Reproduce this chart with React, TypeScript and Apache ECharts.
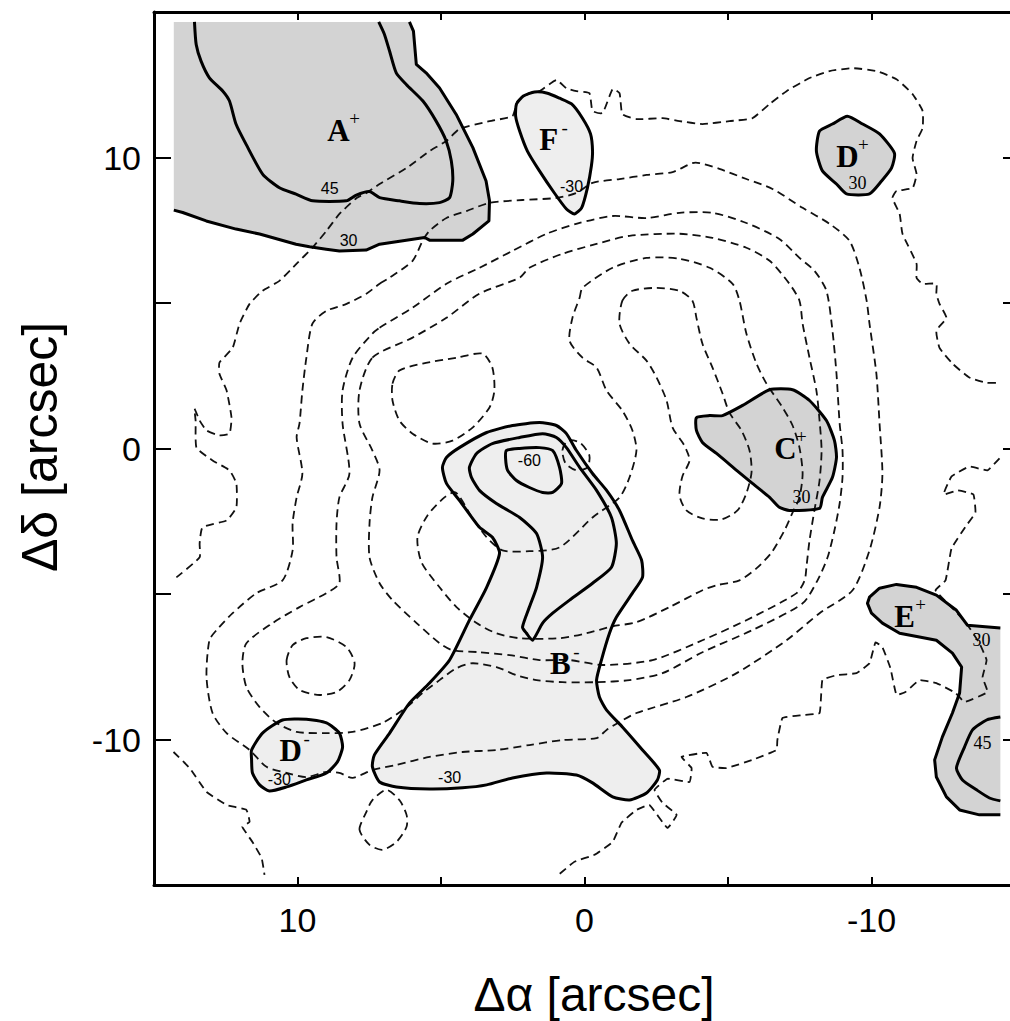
import React, { useEffect, useRef } from 'react';
import * as echarts from 'echarts';

type Pt = [number, number];

const FONT_SANS = '"Liberation Sans", Arial, Helvetica, sans-serif';
const FONT_SERIF = '"Liberation Serif", "Times New Roman", serif';

// ---- axis ticks ----
const AXIS_MIN = -15;
const AXIS_MAX = 15;
const TICK_STEP = 5;
const TICK_LABELS = [10, 0, -10];

// ---- filled (solid) contours, arcsec ----
const A_PLUS_30: Pt[] = [[6.10,14.66],[5.96,14.34],[5.86,13.2],[5.52,12.91],[5.05,12.39],[4.47,11.48],[3.89,10.34],[3.43,9.19],[3.31,8.51],[3.33,7.82],[3.89,7.37],[4.24,7.16],[5.40,7.16],[5.57,7.25],[6.21,7.16],[7.14,7.02],[7.61,6.82],[8.54,6.79],[9.0,6.85],[9.58,6.93],[10.05,7.02],[11.32,7.37],[12.14,7.54],[13.18,7.82],[14.0,8.11],[14.31,8.19]];
const A_PLUS_CORNER: Pt[] = [[14.31,14.66]];
const A_PLUS_45: Pt[] = [[13.59,14.66],[13.53,13.88],[13.36,13.31],[13.07,12.74],[12.60,12.28],[12.37,11.94],[12.14,11.14],[11.79,10.45],[11.21,9.42],[10.63,8.96],[10.05,8.74],[9.47,8.51],[8.30,8.51],[7.95,8.71],[7.49,8.83],[7.14,8.62],[6.45,8.51],[5.75,8.42],[5.05,8.45],[4.70,8.62],[4.59,9.19],[4.64,9.88],[4.82,10.57],[5.17,11.25],[5.63,11.94],[6.21,12.51],[6.56,12.91],[6.79,13.65],[6.97,14.23],[7.17,14.66]];
const F_MINUS_30: Pt[] = [[2.37,11.84],[2.13,12.11],[1.74,12.25],[1.29,12.21],[0.87,12.04],[0.45,11.84],[0.07,11.35],[-0.21,10.81],[-0.28,10.22],[-0.24,9.71],[-0.10,8.95],[0.10,8.27],[0.35,8.06],[0.63,8.23],[1.05,8.78],[1.57,9.54],[1.99,10.22],[2.26,10.91],[2.40,11.42]];
const D_PLUS_30: Pt[] = [[-8.08,10.22],[-8.19,10.91],[-8.64,11.15],[-9.16,11.42],[-9.69,11.15],[-10.28,10.81],[-10.80,10.15],[-10.70,9.64],[-10.35,9.19],[-9.93,8.75],[-9.13,8.75],[-8.78,9.09],[-8.29,9.54]];
const C_PLUS_30: Pt[] = [[-3.90,1.06],[-4.36,1.13],[-4.81,1.13],[-5.51,1.48],[-6.45,2.02],[-7.25,2.02],[-7.84,1.65],[-8.43,0.96],[-8.71,0.27],[-8.78,-0.31],[-8.64,-0.99],[-8.29,-1.68],[-8.19,-2.06],[-7.14,-2.13],[-6.79,-2.02],[-6.45,-1.68],[-5.85,-1.20],[-5.30,-0.75],[-4.60,-0.17],[-4.11,0.21],[-3.90,0.62]];
const D_MINUS_30: Pt[] = [[11.60,-10.36],[11.22,-9.78],[10.52,-9.33],[9.69,-9.30],[8.99,-9.43],[8.54,-9.78],[8.43,-10.26],[8.61,-10.77],[8.99,-11.15],[9.69,-11.39],[10.38,-11.63],[10.98,-11.77],[11.32,-11.56],[11.57,-11.15],[11.60,-10.70]];
const B_MINUS_30: Pt[] = [[4.95,-0.65],[4.81,-0.31],[4.36,0.03],[3.41,0.55],[2.51,0.79],[1.57,0.89],[0.98,0.79],[0.63,0.51],[0.28,-0.07],[-0.28,-0.86],[-0.77,-1.44],[-1.22,-2.13],[-1.67,-3.16],[-1.99,-3.84],[-2.02,-4.43],[-1.67,-4.97],[-1.11,-5.80],[-0.87,-6.35],[-0.59,-7.27],[-0.42,-7.96],[-0.52,-8.54],[-0.77,-8.99],[-1.32,-9.57],[-2.02,-10.36],[-2.61,-11.05],[-2.54,-11.39],[-2.16,-11.84],[-1.57,-12.08],[-0.98,-11.97],[-0.28,-11.49],[0.28,-11.22],[1.32,-11.15],[2.51,-11.32],[3.41,-11.56],[4.25,-11.66],[5.40,-11.70],[6.55,-11.63],[7.14,-11.46],[7.39,-10.94],[7.32,-10.53],[6.79,-9.78],[6.10,-8.75],[5.40,-8.06],[4.70,-7.27],[4.01,-5.90],[3.41,-4.77],[2.96,-3.60],[3.21,-3.05],[3.66,-2.71],[4.36,-1.78],[4.81,-1.20]];
const B_MINUS_45: Pt[] = [[4.01,-0.65],[3.76,-0.17],[3.21,0.17],[2.26,0.38],[1.46,0.51],[0.98,0.38],[0.63,0.03],[0.17,-0.65],[-0.42,-1.44],[-0.94,-2.37],[-1.11,-3.26],[-0.94,-4.08],[-0.28,-4.63],[0.52,-5.21],[1.11,-5.66],[1.46,-6.00],[1.81,-6.59],[2.02,-6.35],[2.16,-6.14],[1.92,-5.45],[1.67,-4.77],[1.46,-3.74],[1.67,-2.92],[2.26,-2.37],[3.07,-1.89],[3.66,-1.44],[3.94,-0.99]];
const B_MINUS_60: Pt[] = [[2.72,-0.07],[2.26,0.00],[1.57,0.03],[1.11,-0.07],[0.87,-0.65],[0.80,-1.20],[1.11,-1.51],[1.46,-1.51],[1.92,-1.34],[2.37,-1.10],[2.68,-0.75],[2.75,-0.34]];
const E_PLUS_30: Pt[] = [[-14.49,-12.59],[-13.76,-12.59],[-13.07,-12.42],[-12.61,-11.97],[-12.26,-11.29],[-12.20,-10.70],[-12.47,-9.91],[-12.82,-9.09],[-13.07,-8.40],[-13.14,-7.51],[-12.82,-7.03],[-12.26,-6.59],[-11.67,-6.48],[-10.98,-6.35],[-10.38,-6.00],[-10.00,-5.66],[-9.86,-5.32],[-9.93,-5.11],[-10.28,-4.80],[-10.87,-4.67],[-11.57,-4.77],[-12.26,-5.04],[-12.96,-5.56],[-13.34,-6.07],[-14.49,-6.17]];
const E_PLUS_45: Pt[] = [[-14.49,-9.23],[-14.01,-9.33],[-13.52,-9.67],[-13.24,-10.26],[-12.96,-10.98],[-13.17,-11.39],[-13.66,-11.73],[-14.11,-12.01],[-14.49,-12.11]];

// ---- dashed contours, arcsec ----
const DASH_OUTER_N: Pt[] = [[14.22,-4.43],[13.41,-3.74],[13.41,-3.26],[13.31,-2.71],[12.47,-2.47],[12.13,-2.02],[12.13,-1.20],[12.37,-0.75],[12.96,-0.41],[13.52,0.03],[13.55,0.96],[13.59,1.37],[13.41,0.96],[13.17,0.62],[12.72,0.45],[12.37,0.51],[12.30,1.06],[12.47,1.99],[12.72,2.57],[12.72,2.95],[12.26,3.46],[12.02,4.29],[11.67,4.97],[11.22,5.42],[10.63,5.76],[10.03,6.35],[9.48,6.90],[8.99,7.48],[8.54,8.06],[7.94,8.61],[7.60,8.78],[7.14,9.09],[6.20,9.64],[5.40,10.22],[4.81,10.57],[4.36,10.98],[3.31,11.25],[2.51,11.42],[2.33,11.94],[1.92,12.21],[1.57,12.28],[0.98,12.66],[0.63,12.38],[0.28,12.28],[-0.17,12.21],[-0.28,11.60],[-0.63,11.53],[-0.98,12.35],[-1.22,12.21],[-1.32,11.49],[-1.81,11.32],[-2.72,11.35],[-3.31,11.25],[-4.11,11.15],[-5.05,11.25],[-5.85,11.35],[-6.45,11.84],[-7.04,12.28],[-7.84,12.73],[-8.54,12.97],[-9.34,13.07],[-10.17,12.97],[-10.87,12.69],[-11.43,12.18],[-11.78,11.60],[-11.78,11.01],[-11.57,10.57],[-11.43,9.98],[-11.57,9.43],[-11.43,8.95],[-10.87,8.85],[-10.73,8.61],[-10.98,8.06],[-11.08,7.38],[-11.57,6.35],[-11.57,5.87],[-11.78,5.66],[-12.26,5.66],[-12.26,5.32],[-12.37,4.97],[-12.61,4.49],[-12.26,4.05],[-12.37,3.46],[-12.82,2.92],[-13.41,2.44],[-14.01,2.26],[-14.46,2.26]];
const DASH_2: Pt[] = [[7.14,5.66],[6.79,5.87],[5.99,6.45],[5.64,7.14],[5.40,7.48],[4.81,7.92],[4.11,8.16],[3.31,8.44],[2.16,8.54],[0.98,8.61],[0.28,8.78],[-0.28,9.13],[-1.22,9.26],[-2.16,9.40],[-3.07,9.50],[-3.76,9.81],[-4.01,9.81],[-4.70,9.61],[-5.64,9.26],[-6.55,8.92],[-7.60,8.27],[-8.54,7.72],[-9.23,7.14],[-9.58,6.21],[-9.83,5.08],[-9.93,4.29],[-10.17,2.57],[-10.28,0.86],[-10.38,-0.86],[-10.28,-2.02],[-9.93,-3.50],[-9.34,-4.87],[-8.19,-5.66],[-7.04,-6.59],[-5.30,-7.72],[-3.55,-8.54],[-1.81,-9.09],[-1.22,-9.40],[-0.77,-9.67],[-0.42,-9.95],[0.77,-10.02],[1.92,-10.19],[3.07,-10.36],[4.25,-10.43],[5.40,-10.60],[6.55,-10.87],[7.39,-11.05],[8.08,-11.32],[8.54,-11.15],[8.99,-11.11],[9.69,-11.29],[10.38,-11.15],[11.08,-10.94],[11.67,-10.36],[12.47,-9.78],[12.96,-9.09],[13.17,-7.86],[13.07,-6.59],[12.82,-6.24],[12.26,-5.66],[11.43,-4.97],[10.52,-4.53],[10.17,-3.50],[10.17,-2.57],[10.03,-1.68],[9.83,-0.86],[10.03,0.38],[9.93,0.86],[9.83,1.99],[9.69,3.12],[9.48,4.29],[8.99,4.73],[8.29,4.97],[7.60,5.32]];
const DASH_3: Pt[] = [[7.14,4.15],[5.99,4.84],[4.81,5.66],[3.66,6.21],[2.51,6.79],[1.32,7.38],[0.17,7.75],[-0.98,7.99],[-2.16,7.92],[-3.31,8.10],[-4.46,8.10],[-5.64,7.75],[-6.79,7.20],[-7.49,6.55],[-8.01,6.11],[-8.43,5.42],[-8.64,4.05],[-8.78,2.57],[-8.89,0.86],[-8.99,-0.07],[-8.99,-0.99],[-8.89,-1.89],[-8.71,-2.81],[-8.47,-3.74],[-8.12,-4.53],[-7.60,-5.32],[-5.85,-6.24],[-4.11,-7.00],[-2.72,-7.72],[-1.57,-7.96],[-0.42,-8.03],[0.77,-8.03],[1.67,-7.96],[2.37,-7.79],[3.07,-7.51],[3.90,-7.38],[4.46,-7.55],[5.05,-7.96],[5.64,-8.40],[6.20,-8.89],[7.04,-9.43],[8.08,-9.74],[8.99,-9.78],[10.03,-9.74],[10.73,-9.43],[11.32,-8.89],[11.78,-8.20],[11.92,-7.38],[11.78,-6.69],[10.87,-6.00],[9.93,-5.45],[8.99,-4.97],[8.54,-4.63],[8.64,-3.74],[8.64,-2.57],[8.54,-1.68],[8.19,-0.86],[8.43,0.86],[8.43,1.99],[8.08,3.12],[7.39,3.95]];
const DASH_4: Pt[] = [[7.39,3.12],[5.99,3.81],[4.81,4.49],[3.66,5.32],[2.26,5.87],[1.92,6.21],[0.77,6.69],[-0.42,7.03],[-1.57,7.31],[-3.31,7.38],[-4.46,7.24],[-5.64,6.90],[-6.45,6.45],[-7.14,5.66],[-7.49,5.08],[-7.60,4.29],[-7.84,3.12],[-8.08,1.99],[-8.19,0.96],[-8.26,-0.07],[-8.19,-1.10],[-8.01,-2.13],[-7.84,-3.16],[-7.74,-4.01],[-7.67,-4.53],[-7.39,-4.97],[-5.64,-5.90],[-4.11,-6.59],[-2.37,-7.27],[-0.63,-7.44],[0.52,-7.27],[1.57,-7.27],[2.61,-7.10],[3.66,-7.00],[4.60,-6.93],[5.05,-6.69],[5.85,-6.00],[6.69,-5.21],[7.14,-4.63],[7.49,-3.74],[7.49,-2.57],[7.39,-1.68],[7.14,-0.75],[7.39,-0.07],[7.84,0.86],[7.84,1.99]];
const DASH_5: Pt[] = [[0.17,5.18],[0.07,5.52],[-0.98,6.21],[-2.16,6.55],[-3.31,6.52],[-4.36,6.21],[-5.16,5.66],[-5.40,5.08],[-5.64,3.95],[-5.99,2.92],[-6.34,2.23],[-6.90,1.41],[-7.25,0.79],[-7.49,0.03],[-7.60,-0.86],[-7.49,-1.68],[-7.25,-2.20],[-6.97,-2.81],[-6.52,-3.57],[-5.99,-4.12],[-5.40,-4.53],[-4.60,-4.70],[-4.11,-4.87],[-2.96,-5.45],[-1.81,-5.97],[-0.98,-6.11],[-0.07,-6.35],[0.87,-6.52],[2.26,-6.52],[3.07,-6.35],[3.76,-6.00],[4.46,-5.45],[5.05,-4.77],[5.68,-3.91],[5.82,-3.05],[5.47,-2.30],[4.88,-1.68],[4.49,-1.51],[3.94,-2.33],[3.41,-3.05],[2.86,-3.50],[1.92,-3.53],[0.87,-3.40],[-0.28,-2.37],[-1.22,-1.68],[-1.57,-0.99],[-1.81,-0.07],[-1.67,0.62],[-1.32,1.30],[-0.77,1.99],[-0.42,2.78],[0.07,3.12],[0.52,3.70],[0.42,4.49]];
const DASH_6: Pt[] = [[-1.32,5.08],[-1.67,5.42],[-2.51,5.52],[-3.31,5.42],[-3.76,5.08],[-3.90,4.49],[-4.11,3.60],[-4.46,2.78],[-4.81,1.89],[-5.05,1.23],[-5.47,0.62],[-5.75,-0.07],[-5.82,-0.82],[-5.64,-1.54],[-5.33,-2.13],[-4.77,-2.44],[-4.11,-2.40],[-3.55,-2.13],[-3.31,-1.61],[-3.41,-0.96],[-3.66,-0.41],[-3.48,0.10],[-3.07,0.72],[-2.86,1.65],[-2.51,2.44],[-2.16,3.02],[-1.57,3.60],[-1.22,4.29]];
const DASH_LOOP_W: Pt[] = [[6.69,2.23],[6.45,2.68],[5.64,2.92],[4.46,3.12],[3.55,3.26],[3.21,2.78],[3.14,1.99],[3.31,1.41],[3.90,0.72],[4.60,0.27],[5.30,0.17],[5.99,0.51],[6.45,0.96],[6.69,1.65]];
const DASH_LOOP_SW: Pt[] = [[10.38,-7.27],[10.17,-6.76],[9.69,-6.52],[8.99,-6.48],[8.29,-6.83],[8.01,-7.38],[8.19,-7.96],[8.64,-8.37],[9.23,-8.47],[9.93,-8.30],[10.28,-7.86]];
const DASH_LOOP_B: Pt[] = [[0.77,-0.07],[0.59,0.27],[0.17,0.21],[-0.17,-0.24],[-0.10,-0.65],[0.28,-0.75],[0.66,-0.51]];
const DASH_DROP: Pt[] = [[7.84,-13.10],[7.60,-12.49],[7.39,-12.08],[6.90,-11.73],[6.45,-12.08],[6.20,-12.59],[6.20,-13.00],[6.55,-13.52],[7.04,-13.79],[7.49,-13.62]];
const DASH_OUTER_SW: Pt[] = [[14.32,-10.43],[13.76,-10.98],[13.17,-11.80],[12.47,-12.25],[11.78,-12.42],[11.67,-12.83],[11.92,-13.00],[11.57,-13.52],[11.25,-14.07],[11.15,-14.65]];
const DASH_OUTER_SE: Pt[] = [[-14.46,-0.34],[-14.04,-0.75],[-13.41,-0.62],[-12.79,-0.96],[-12.51,-1.58],[-13.00,-1.44],[-13.55,-1.58],[-13.62,-2.20],[-13.28,-2.68],[-12.79,-3.43],[-12.58,-4.53],[-12.23,-4.87],[-12.72,-5.39],[-13.28,-5.97],[-13.76,-6.69],[-14.01,-7.27],[-13.87,-7.86],[-14.04,-8.37],[-13.24,-8.71],[-12.93,-8.40],[-12.26,-8.06],[-11.67,-7.96],[-11.18,-8.37],[-10.87,-8.47],[-10.66,-7.55],[-10.38,-6.83],[-10.14,-6.66],[-9.93,-7.38],[-9.48,-7.72],[-8.78,-7.79],[-8.29,-7.96],[-8.19,-9.09],[-7.60,-9.16],[-6.90,-9.26],[-6.72,-10.02],[-6.69,-10.36],[-5.85,-10.70],[-4.95,-10.98],[-4.46,-10.94],[-4.25,-10.46],[-3.38,-10.60],[-3.73,-10.98],[-3.66,-11.46],[-2.89,-11.35],[-2.44,-11.73],[-2.72,-12.18],[-3.21,-12.59],[-2.89,-13.04],[-2.26,-12.25],[-1.81,-12.42],[-1.29,-12.86],[-0.98,-13.52],[-0.35,-13.96],[0.35,-14.20],[0.94,-14.68]];

// ---- labels ----
const REGION_LABELS: [number, number, string, string][] = [
  [8.57, 10.94, 'A', '+'],
  [1.25, 10.63, 'F', '-'],
  [-9.16, 10.05, 'D', '+'],
  [-7.00, 0.0, 'C', '+'],
  [0.84, -7.38, 'B', '-'],
  [10.24, -10.39, 'D', '-'],
  [-11.15, -5.76, 'E', '+'],
];
const VALUE_LABELS_SANS: [number, number, string][] = [
  [8.88, 8.92, '45'],
  [8.22, 7.14, '30'],
  [0.45, 9.02, '-30'],
  [1.92, -0.41, '-60'],
  [4.70, -11.32, '-30'],
  [10.63, -11.36, '-30'],
];
const VALUE_LABELS_SERIF: [number, number, string][] = [
  [-9.51, 9.13, '30'],
  [-7.56, -1.68, '30'],
  [-13.83, -6.59, '30'],
  [-13.87, -10.12, '45'],
];

const DARK = '#d3d3d3';
const LIGHT = '#eeeeee';

function shape(points: Pt[], o: { fill?: string; stroke?: string; width?: number; dash?: number[]; closed?: boolean; smooth?: number; z?: number }) {
  return {
    type: 'custom',
    coordinateSystem: 'cartesian2d',
    silent: true,
    z: o.z ?? 2,
    data: [points[0]],
    encode: { x: 0, y: 1 },
    renderItem: (_params: any, api: any) => {
      const pts = points.map((p) => api.coord(p));
      return {
        type: o.closed ? 'polygon' : 'polyline',
        silent: true,
        shape: { points: pts, smooth: o.smooth ?? 0 },
        style: {
          fill: o.fill ?? 'none',
          stroke: o.stroke ?? 'none',
          lineWidth: o.width ?? 0,
          lineDash: o.dash ?? null,
          lineJoin: 'round',
          lineCap: 'butt',
        },
      };
    },
  };
}

const DASH = [8, 5];
const dashed = (p: Pt[], closed: boolean, smooth = 0.25) =>
  shape(p, { stroke: '#111', width: 1.8, dash: DASH, closed, smooth, z: 3 });
const solid = (p: Pt[], closed: boolean, smooth = 0.2) =>
  shape(p, { stroke: '#000', width: 3, closed, smooth, z: 4 });
const filled = (p: Pt[], color: string, smooth = 0.2) =>
  shape(p, { fill: color, closed: true, smooth, z: 1 });

export default function App() {
  const ref = useRef<HTMLDivElement>(null);
  useEffect(() => {
    document.body.style.margin = '0';
    document.body.style.overflow = 'hidden';
    if (!ref.current) return;
    const chart = echarts.init(ref.current, undefined, { renderer: 'svg' });
    const tickFmt = (v: number) => (TICK_LABELS.includes(v) ? String(v) : '');
    const axisLine = { show: true, onZero: false, lineStyle: { color: '#000', width: 3 } };
    const common = { type: 'value', min: AXIS_MIN, max: AXIS_MAX, interval: TICK_STEP, splitLine: { show: false } };
    const option: any = {
      animation: false,
      backgroundColor: '#ffffff',
      grid: { left: 154, right: 15, top: 12, bottom: 136, containLabel: false },
      xAxis: [
        { ...common, inverse: true, position: 'bottom', axisLine,
          axisTick: { show: true, inside: true, length: 8, lineStyle: { color: '#000', width: 2 } },
          axisLabel: { show: true, margin: 18, color: '#000', fontSize: 34, fontFamily: FONT_SANS, formatter: tickFmt } },
        { ...common, inverse: true, position: 'top', axisLine,
          axisTick: { show: true, inside: true, length: 8, lineStyle: { color: '#000', width: 2 } },
          axisLabel: { show: false } },
      ],
      yAxis: [
        { ...common, position: 'left', axisLine,
          axisTick: { show: true, inside: true, length: 17, lineStyle: { color: '#000', width: 2 } },
          axisLabel: { show: true, margin: 13, color: '#000', fontSize: 34, fontFamily: FONT_SANS, formatter: tickFmt } },
        { ...common, position: 'right', axisLine,
          axisTick: { show: true, inside: true, length: 12, lineStyle: { color: '#000', width: 2 } },
          axisLabel: { show: false } },
      ],
      graphic: [
        { type: 'text', x: 594, y: 994, silent: true,
          style: { text: 'Δα [arcsec]', font: `48px ${FONT_SANS}`, fill: '#000', align: 'center', verticalAlign: 'middle' } },
        { type: 'text', x: 40, y: 447, rotation: Math.PI / 2, silent: true,
          style: { text: 'Δδ [arcsec]', font: `50px ${FONT_SANS}`, fill: '#000', align: 'center', verticalAlign: 'middle' } },
      ],
      series: [
        // fills
        filled([...A_PLUS_30, ...A_PLUS_CORNER], DARK, 0),
        filled(E_PLUS_30, DARK, 0),
        filled(F_MINUS_30, LIGHT),
        filled(D_PLUS_30, DARK),
        filled(C_PLUS_30, DARK),
        filled(D_MINUS_30, LIGHT),
        filled(B_MINUS_30, LIGHT),
        // dashed contours
        dashed(DASH_OUTER_N, false, 0.15),
        dashed(DASH_2, true),
        dashed(DASH_3, true),
        dashed(DASH_4, true),
        dashed(DASH_5, true),
        dashed(DASH_6, true),
        dashed(DASH_LOOP_W, true),
        dashed(DASH_LOOP_SW, true),
        dashed(DASH_LOOP_B, true),
        dashed(DASH_DROP, true),
        dashed(DASH_OUTER_SW, false, 0.1),
        dashed(DASH_OUTER_SE, false, 0.1),
        // solid contours
        solid(A_PLUS_30, false, 0),
        solid(A_PLUS_45, false),
        solid(F_MINUS_30, true),
        solid(D_PLUS_30, true),
        solid(C_PLUS_30, true),
        solid(D_MINUS_30, true),
        solid(B_MINUS_30, true),
        solid(B_MINUS_45, true),
        solid(B_MINUS_60, true),
        solid(E_PLUS_30, false, 0),
        solid(E_PLUS_45, false),
        // region labels
        {
          type: 'custom', coordinateSystem: 'cartesian2d', silent: true, z: 6,
          data: REGION_LABELS.map((l) => [l[0], l[1]]),
          renderItem: (params: any, api: any) => {
            const l = REGION_LABELS[params.dataIndex];
            const p = api.coord([l[0], l[1]]);
            return {
              type: 'group',
              children: [
                { type: 'text', x: p[0], y: p[1], style: { text: l[2], font: `bold 31px ${FONT_SERIF}`, fill: '#000', align: 'center', verticalAlign: 'middle' } },
                { type: 'text', x: p[0] + 16, y: p[1] - 12, style: { text: l[3], font: `19px ${FONT_SERIF}`, fill: '#000', align: 'center', verticalAlign: 'middle' } },
              ],
            };
          },
        },
        {
          type: 'custom', coordinateSystem: 'cartesian2d', silent: true, z: 6,
          data: VALUE_LABELS_SANS.map((l) => [l[0], l[1]]),
          renderItem: (params: any, api: any) => {
            const l = VALUE_LABELS_SANS[params.dataIndex];
            const p = api.coord([l[0], l[1]]);
            return { type: 'text', x: p[0], y: p[1], style: { text: l[2], font: `16px ${FONT_SANS}`, fill: '#000', align: 'center', verticalAlign: 'middle' } };
          },
        },
        {
          type: 'custom', coordinateSystem: 'cartesian2d', silent: true, z: 6,
          data: VALUE_LABELS_SERIF.map((l) => [l[0], l[1]]),
          renderItem: (params: any, api: any) => {
            const l = VALUE_LABELS_SERIF[params.dataIndex];
            const p = api.coord([l[0], l[1]]);
            return { type: 'text', x: p[0], y: p[1], style: { text: l[2], font: `18px ${FONT_SERIF}`, fill: '#000', align: 'center', verticalAlign: 'middle' } };
          },
        },
      ],
    };
    chart.setOption(option);
    return () => chart.dispose();
  }, []);
  return <div ref={ref} style={{ width: 1030, height: 1021 }} />;
}
